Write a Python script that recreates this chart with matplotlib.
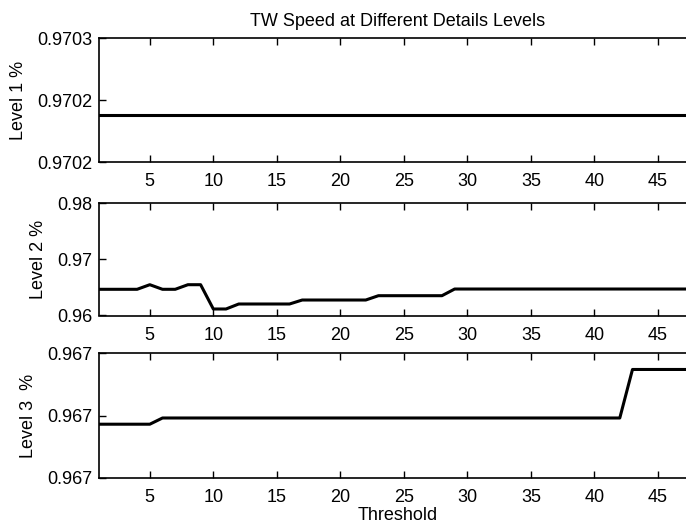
import matplotlib
matplotlib.use("Agg")
import matplotlib.pyplot as plt

plt.rcParams['font.family'] = ['Liberation Sans', 'DejaVu Sans']

threshold = list(range(1, 49))

level1 = [0.9701881] * 48

level2 = [0.96467, 0.96467, 0.96467, 0.96467, 0.96549, 0.96467, 0.96467, 0.96549,
          0.96549, 0.96116, 0.96116, 0.96205, 0.96205, 0.96205, 0.96205, 0.96205,
          0.96276, 0.96276, 0.96276, 0.96276, 0.96276, 0.96276, 0.96353, 0.96353,
          0.96353, 0.96353, 0.96353, 0.96353, 0.96472, 0.96472, 0.96472, 0.96472,
          0.96472, 0.96472, 0.96472, 0.96472, 0.96472, 0.96472, 0.96472, 0.96472,
          0.96472, 0.96472, 0.96472, 0.96472, 0.96472, 0.96472, 0.96472, 0.96472]

level3 = [0.966993, 0.966993, 0.966993, 0.966993, 0.966993, 0.966998, 0.966998, 0.966998,
          0.966998, 0.966998, 0.966998, 0.966998, 0.966998, 0.966998, 0.966998, 0.966998,
          0.966998, 0.966998, 0.966998, 0.966998, 0.966998, 0.966998, 0.966998, 0.966998,
          0.966998, 0.966998, 0.966998, 0.966998, 0.966998, 0.966998, 0.966998, 0.966998,
          0.966998, 0.966998, 0.966998, 0.966998, 0.966998, 0.966998, 0.966998, 0.966998,
          0.966998, 0.966998, 0.967037, 0.967037, 0.967037, 0.967037, 0.967037, 0.967037]

xticks = [5, 10, 15, 20, 25, 30, 35, 40, 45]
y1_ticks = [0.97015, 0.97020, 0.97025]
y1_labels = ['0.9702', '0.9702', '0.9703']
y2_ticks = [0.96, 0.97, 0.98]
y2_labels = ['0.96', '0.97', '0.98']
y3_ticks = [0.96695, 0.96700, 0.96705]
y3_labels = ['0.967', '0.967', '0.967']

title = 'TW Speed at Different Details Levels'
ylabels = ['Level 1 %', 'Level 2 %', 'Level 3  %']
xlabel = 'Threshold'

W, H = 686, 525
fig = plt.figure(figsize=(W / 100, H / 100), dpi=100)

left = 99 / W
width = 597 / W
rects = [
    (left, 1 - 162.3 / H, width, (162.3 - 38.3) / H),
    (left, 1 - 315.5 / H, width, (315.5 - 203.3) / H),
    (left, 1 - 477.7 / H, width, (477.7 - 353.3) / H),
]
series = [level1, level2, level3]
yt = [(y1_ticks, y1_labels), (y2_ticks, y2_labels), (y3_ticks, y3_labels)]

fs = 13
axes = []
for i, (r, s, (tk, lb), yl) in enumerate(zip(rects, series, yt, ylabels)):
    ax = fig.add_axes(r)
    ax.plot(threshold, s, color='black', linewidth=2.2)
    ax.set_xlim(1, 48)
    ax.set_ylim(tk[0], tk[-1])
    ax.set_xticks(xticks)
    ax.set_yticks(tk)
    ax.set_yticklabels(lb)
    ax.tick_params(direction='in', length=5, width=1, top=True, right=True,
                   labelsize=fs, colors='black')
    ax.tick_params(axis='x', pad=8)
    ax.tick_params(axis='y', pad=5)
    for sp in ax.spines.values():
        sp.set_linewidth(1.2)
    ax.set_ylabel(yl, fontsize=fs, labelpad=7)
    axes.append(ax)

axes[0].set_title(title, fontsize=fs, pad=9)
axes[2].set_xlabel(xlabel, fontsize=fs, labelpad=1)

fig.savefig('out.png', dpi=100)
